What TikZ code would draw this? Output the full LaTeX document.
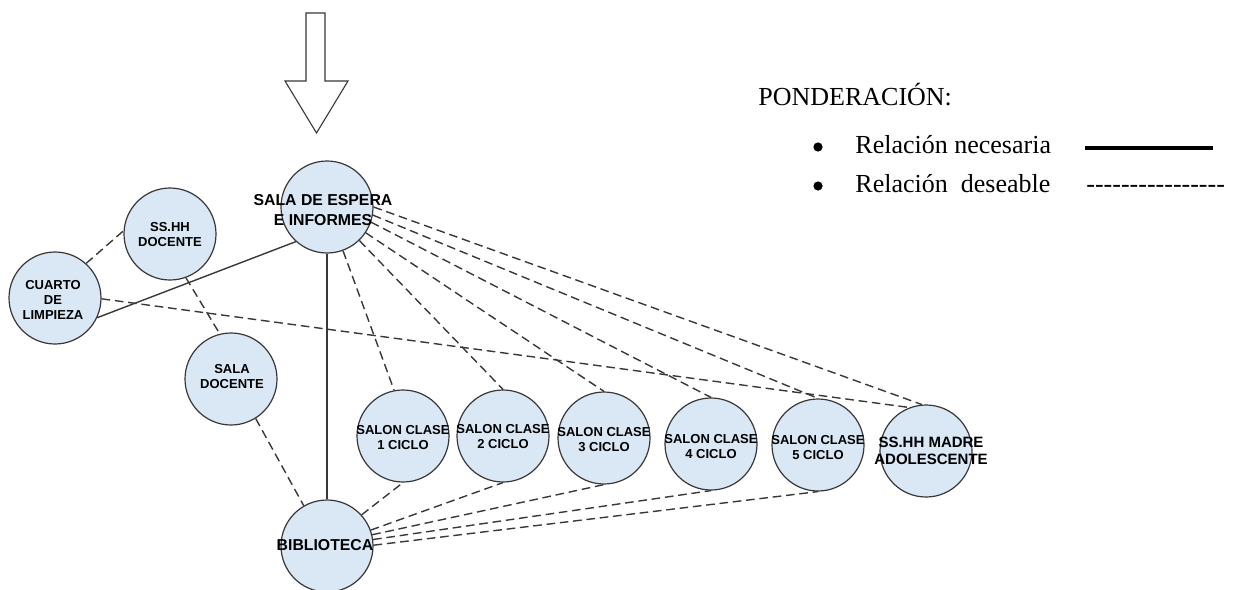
\documentclass[tikz,border=0pt]{standalone}
\usepackage{fontspec}
\setmainfont{Liberation Serif}
\newfontfamily\arialf{Liberation Sans}
\definecolor{circfill}{RGB}{218,231,245}
\definecolor{edgecol}{RGB}{56,56,56}
\begin{document}
\begin{tikzpicture}[x=0.5pt,y=-0.5pt,
  circ/.style={circle,draw=edgecol,line width=0.6pt,fill=circfill,minimum size=46pt,inner sep=0pt},
  lab/.style={align=center,inner sep=0pt,font=\arialf\bfseries\fontsize{6.5}{7.5}\selectfont},
  biglab/.style={align=center,inner sep=0pt,font=\arialf\bfseries\fontsize{7.9}{10}\selectfont},
  solidedge/.style={draw=edgecol,line width=0.7pt},
  dashedge/.style={draw=edgecol,line width=0.7pt,dash pattern=on 4.3pt off 2.4pt},
  legtext/.style={inner sep=0pt,anchor=base west,font=\fontsize{13}{15}\selectfont},
  bul/.style={circle,fill=black,inner sep=0pt,minimum size=4.6pt}
]
\useasboundingbox (0,0) rectangle (1240,589);

% arrow
\draw[draw=edgecol,line width=0.55pt,fill=white]
  (306,13) -- (325,13) -- (325,81) -- (348,81) -- (316.5,133) -- (285,81) -- (306,81) -- cycle;

% circles
\node[circ] (espera) at (327,207) {};
\node[circ] (ssd) at (170,234) {};
\node[circ] (cuarto) at (55,298) {};
\node[circ] (sdoc) at (231,379) {};
\node[circ] (s1) at (403,436) {};
\node[circ] (s2) at (503,436) {};
\node[circ] (s3) at (604,438) {};
\node[circ] (s4) at (711,444) {};
\node[circ] (s5) at (818,445) {};
\node[circ] (madre) at (926,451) {};
\node[circ] (bib) at (327,546) {};

% necessary relations
\draw[solidedge] (espera) -- (bib);
\draw[solidedge] (cuarto.-25) -- (espera.-132);

% desirable relations
\draw[dashedge] (cuarto.48) -- (ssd.176);
\draw[dashedge] (ssd.-70) -- (sdoc.104);
\draw[dashedge] (sdoc.-58) -- (bib.120);
\draw[dashedge] (cuarto.-1) -- (madre.111);
\draw[dashedge] (espera) -- (s1.101);
\draw[dashedge] (espera) -- (s2.north);
\draw[dashedge] (espera) -- (s3.north);
\draw[dashedge] (espera.-19) -- (s4.north);
\draw[dashedge] (espera.-10) -- (s5.north);
\draw[dashedge] (espera.0) -- (madre.95);
\draw[dashedge] (bib.42) -- (s1.south);
\draw[dashedge] (bib.20) -- (s2.south);
\draw[dashedge] (bib.14) -- (s3.south);
\draw[dashedge] (bib.8) -- (s4.south);
\draw[dashedge] (bib.1) -- (s5.south);

% labels
\node[biglab] (esperat) at (323,210) {SALA DE ESPERA\\E INFORMES};
\node[lab] (ssdt) at (170,235) {SS.HH\\DOCENTE};
\node[lab] (cuartot) at (53,300) {CUARTO\\DE\\LIMPIEZA};
\node[lab] (sdoct) at (232,377) {SALA\\DOCENTE};
\node[lab] (s1t) at (403,438) {SALON CLASE\\1 CICLO};
\node[lab] (s2t) at (503,437) {SALON CLASE\\2 CICLO};
\node[lab] (s3t) at (604,440) {SALON CLASE\\3 CICLO};
\node[lab] (s4t) at (711,447) {SALON CLASE\\4 CICLO};
\node[lab] (s5t) at (818,448) {SALON CLASE\\5 CICLO};
\node[align=center,inner sep=0pt,font=\arialf\bfseries\fontsize{7.5}{8.6}\selectfont] (madret) at (931,451) {SS.HH MADRE\\ADOLESCENTE};
\node[biglab] (bibt) at (325,545) {BIBLIOTECA};

% legend
\node[legtext] (pond) at (758,105) {PONDERACIÓN:};
\node[bul] (b1) at (818,147) {};
\node[bul] (b2) at (818,186) {};
\node[legtext] (nec) at (855,153) {Relación necesaria};
\node[legtext] (des) at (855,192) {Relación\hspace{6.5pt}deseable};
\coordinate (la) at (1085,148);
\coordinate (lb) at (1213,148);
\draw[line width=2pt] (la) -- (lb);
\node[legtext] (hy) at (1086,192) {-{}-{}-{}-{}-{}-{}-{}-{}-{}-{}-{}-{}-{}-{}-{}-};
\end{tikzpicture}
\end{document}
